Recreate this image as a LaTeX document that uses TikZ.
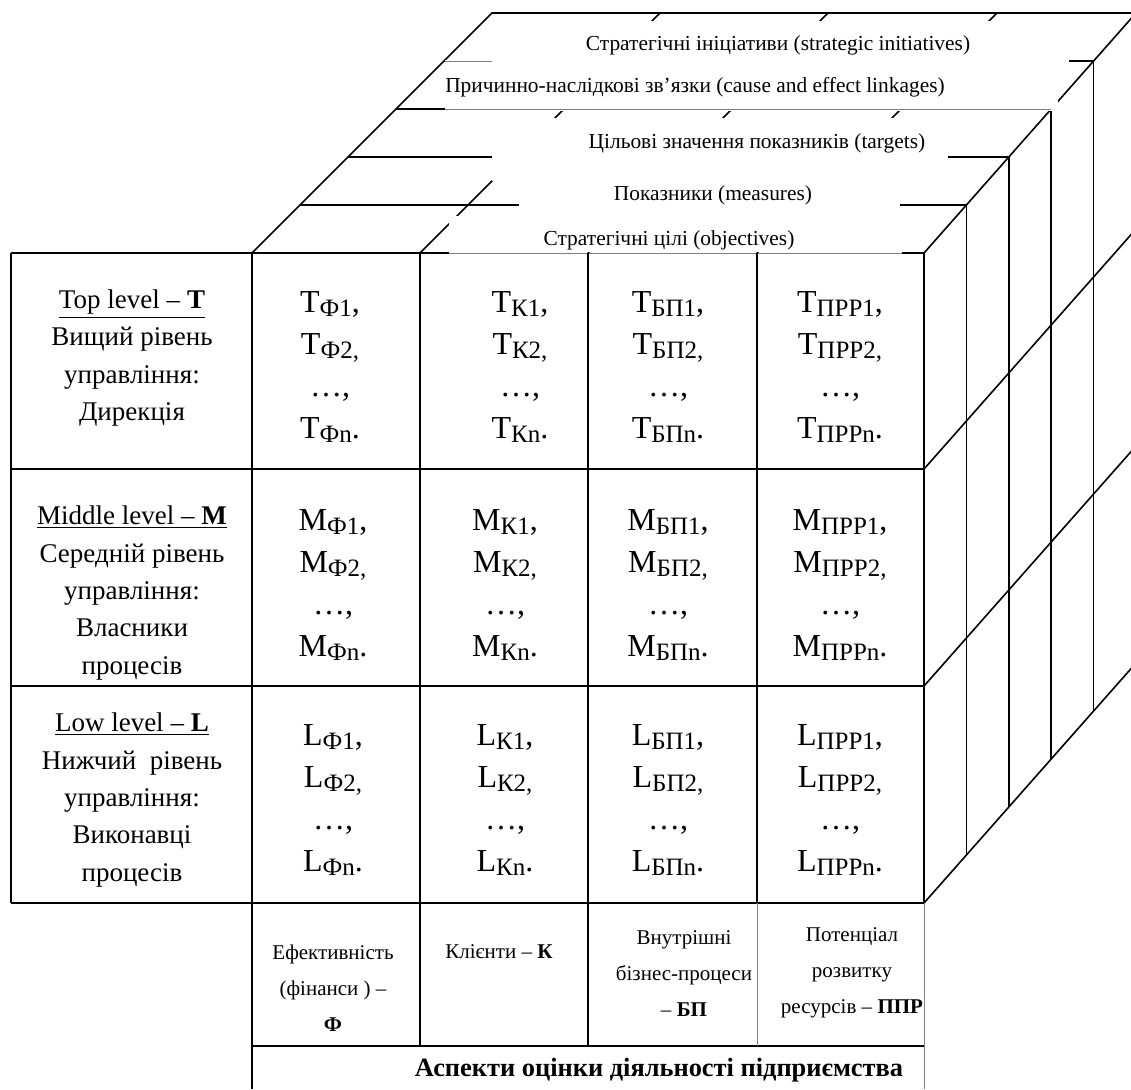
\documentclass[tikz,border=0pt]{standalone}
\usepackage{fontspec}
\setmainfont{Liberation Serif}

\newcommand{\lo}[1]{\raisebox{-2.2pt}{\fontsize{12.5}{12.5}\selectfont #1}}
\newcommand{\cellset}[2]{#1\lo{#21},\\#1\lo{#22,}\\…,\\#1\lo{#2n}.}

\begin{document}
\begin{tikzpicture}[x=0.5pt, y=-0.5pt,
  edge/.style={line width=0.8pt},
  faint/.style={line width=0.4pt, draw=gray},
  mask/.style={fill=white},
  slicetext/.style={font=\fontsize{10.7}{13}\selectfont, inner sep=0pt},
  cellbox/.style={font=\fontsize{16}{21}\selectfont, align=center, inner sep=0pt},
  levelbox/.style={font=\fontsize{13.5}{18.7}\selectfont, align=center, inner sep=0pt},
  aspectbox/.style={font=\fontsize{10.5}{18}\selectfont, align=center, inner sep=0pt}]
\path[use as bounding box] (0,0) rectangle (1131,1089);
\clip (0,0) rectangle (1131,1089);

% top face: edges, slices, receding column lines
\draw[edge] (252,253) -- (492,13) -- (1136,13);
\draw[edge] (924,253) -- (1136,13);
\draw[edge] (300,205) -- (966.4,205);
\draw[edge] (348,157) -- (1008.8,157);
\draw[edge] (396,109) -- (1051.2,109);
\draw[edge] (444,61) -- (1093.6,61);
\draw[edge] (420,253) -- (660,13);
\draw[edge] (588,253) -- (828,13);
\draw[edge] (757,253) -- (997,13);

% right face
\draw[edge] (966.4,205) -- (966.4,855);
\draw[edge] (1008.8,157) -- (1008.8,807);
\draw[edge] (1051.2,109) -- (1051.2,759);
\draw[edge] (1093.6,61) -- (1093.6,711);
\draw[edge] (924,469) -- (1136,229);
\draw[edge] (924,686) -- (1136,446);
\draw[edge] (924,903) -- (1136,663);

% text boxes of the slices
\fill[mask] (492,21) rectangle (1069,63);
\fill[mask] (445,60) rectangle (1058,110.5);
\fill[mask] (492,118) rectangle (948,181);
\fill[mask] (519,181) rectangle (900,216);
\fill[mask] (449,216) rectangle (902,252);
\draw[faint] (445,61) -- (492,61);
\draw[faint] (445,109) -- (1051.2,109);

% front face
\draw[edge] (11,253) -- (449,253);
\draw[faint] (449,253) -- (902,253);
\draw[edge] (902,253) -- (924,253);
\draw[edge] (11,469) -- (924,469);
\draw[edge] (11,686) -- (924,686);
\draw[edge] (11,903) -- (924,903);
\draw[edge] (252,1046) -- (924,1046);
\draw[edge] (11,253) -- (11,903);
\draw[edge] (252,253) -- (252,1089);
\draw[edge] (420,253) -- (420,1046);
\draw[edge] (588,253) -- (588,1046);
\draw[edge] (757,253) -- (757,903);
\draw[edge] (924,253) -- (924,903);
\draw[faint] (757,903) -- (757,1046);
\draw[faint] (924,903) -- (924,1089);

% slice labels
\node[slicetext] (S5) at (778,45) {Стратегічні ініціативи (strategic initiatives)};
\node[slicetext] (S4) at (695,87) {Причинно-наслідкові зв’язки (cause and effect linkages)};
\node[slicetext] (S3) at (757,143) {Цільові значення показників (targets)};
\node[slicetext] (S2) at (713,195) {Показники (measures)};
\node[slicetext] (S1) at (669,240) {Стратегічні цілі (objectives)};

% management levels
\node[levelbox] (LT) at (132,358) {\underline{Top level – \textbf{T}}\\Вищий рівень\\управління:\\Дирекція};
\node[levelbox] (LM) at (132,593) {\underline{Middle level – \textbf{M}}\\Середній рівень\\управління:\\Власники\\процесів};
\node[levelbox] (LL) at (132,800) {\underline{Low level – \textbf{L}}\\Нижчий\ \ рівень\\управління:\\Виконавці\\процесів};

% cells
\node[cellbox] (TF) at (330,367) {\cellset{T}{Ф}};
\node[cellbox] (TK) at (520,367) {\cellset{T}{К}};
\node[cellbox] (TB) at (668,367) {\cellset{T}{БП}};
\node[cellbox] (TR) at (840,367) {\cellset{T}{ПРР}};
\node[cellbox] (MF) at (333,585) {\cellset{M}{Ф}};
\node[cellbox] (MK) at (505,585) {\cellset{M}{К}};
\node[cellbox] (MB) at (668,585) {\cellset{M}{БП}};
\node[cellbox] (MR) at (840,585) {\cellset{M}{ПРР}};
\node[cellbox] (LF) at (333,800) {\cellset{L}{Ф}};
\node[cellbox] (LK) at (505,800) {\cellset{L}{К}};
\node[cellbox] (LB) at (668,800) {\cellset{L}{БП}};
\node[cellbox] (LR) at (840,800) {\cellset{L}{ПРР}};

% aspects
\node[aspectbox] (AF) at (333,988) {Ефективність\\(фінанси ) –\\\textbf{Ф}};
\node[aspectbox] (AK) at (499,952) {Клієнти – \textbf{К}};
\node[aspectbox] (AB) at (684,974) {Внутрішні\\бізнес-процеси\\– \textbf{БП}};
\node[aspectbox] (AR) at (852,973) {Потенціал\\розвитку\\ресурсів – \textbf{ППР}};
\node[font=\fontsize{13.2}{15}\selectfont\bfseries, inner sep=0pt] (AT) at (659,1070) {Аспекти оцінки діяльності підприємства};
\end{tikzpicture}
\end{document}
